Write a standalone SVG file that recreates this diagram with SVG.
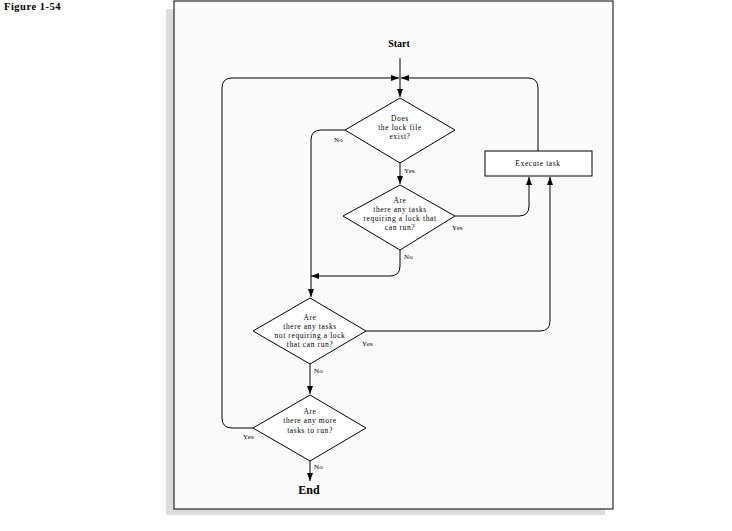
<svg xmlns="http://www.w3.org/2000/svg" width="732" height="531" viewBox="0 0 732 531">
<style>
text{font-family:"Liberation Serif","Times New Roman",serif;fill:#000;text-anchor:middle}
.t{font-size:7.5px;letter-spacing:0.6px}
.l{font-size:7px;letter-spacing:0.3px;text-anchor:start}
.b{font-weight:bold}
.shape{fill:#fff;stroke:#000;stroke-width:1}
.c{fill:none;stroke:#000;stroke-width:1;marker-end:url(#ah)}
</style>
<defs>
<marker id="ah" viewBox="0 0 8 6" refX="8" refY="3" markerWidth="8" markerHeight="6" markerUnits="userSpaceOnUse" orient="auto">
<path d="M0,0 L8,3 L0,6 Z" fill="#000"/>
</marker>
</defs>
<rect x="0" y="0" width="732" height="531" fill="#fff"/>
<text x="4" y="10" style="font-size:10.5px;text-anchor:start;letter-spacing:0.5px" class="b">Figure 1-54</text>
<rect x="166" y="9" width="439" height="506" fill="#dcdcdc"/>
<rect x="174" y="1" width="439" height="508" fill="#fafafa" stroke="#000" stroke-width="1"/>

<g id="start"><text x="399" y="47" class="b" style="font-size:10px">Start</text></g>
<g id="end"><text x="309" y="494" style="font-size:12px" class="b">End</text></g>

<g id="d1">
<polygon class="shape" points="400,98 455,130 400,163 345,130"/>
<text class="t" x="400" y="121">Does</text>
<text class="t" x="400" y="130">the lock file</text>
<text class="t" x="400" y="139">exist?</text>
</g>
<g id="d2">
<polygon class="shape" points="400,185 455,216 400,250 343,216"/>
<text class="t" x="400" y="203">Are</text>
<text class="t" x="400" y="212">there any tasks</text>
<text class="t" x="400" y="221">requiring a lock that</text>
<text class="t" x="400" y="230">can run?</text>
</g>
<g id="box">
<rect class="shape" x="485" y="151" width="107" height="25"/>
<text class="t" x="538" y="166">Execute task</text>
</g>
<g id="d3">
<polygon class="shape" points="310,298 366,331 310,364 253,331"/>
<text class="t" x="310" y="320">Are</text>
<text class="t" x="310" y="329">there any tasks</text>
<text class="t" x="310" y="338">not requiring a lock</text>
<text class="t" x="310" y="347">that can run?</text>
</g>
<g id="d4">
<polygon class="shape" points="310,395 366,428 310,461 253,428"/>
<text class="t" x="310" y="414">Are</text>
<text class="t" x="310" y="423">there any more</text>
<text class="t" x="310" y="433">tasks to run?</text>
</g>

<g id="connectors">
<path class="c" d="M400,58 V97"/>
<path class="c" d="M253,428 H232 Q222,428 222,418 V88 Q222,78 232,78 H399"/>
<path class="c" d="M538,151 V88 Q538,78 528,78 H401"/>
<path class="c" d="M345,130 H321 Q311,130 311,140 V297"/>
<path class="c" d="M400,163 V184"/>
<path class="c" d="M455,216 H519 Q529,216 529,206 V177"/>
<path class="c" d="M400,250 V266 Q400,276 390,276 H311"/>
<path class="c" d="M366,331 H540 Q550,331 550,321 V177"/>
<path class="c" d="M310,364 V394"/>
<path class="c" d="M310,461 V481"/>
<text class="l" x="334" y="142">No</text>
<text class="l" x="404" y="173">Yes</text>
<text class="l" x="452" y="230">Yes</text>
<text class="l" x="404" y="259">No</text>
<text class="l" x="362" y="346">Yes</text>
<text class="l" x="314" y="373">No</text>
<text class="l" x="243" y="439">Yes</text>
<text class="l" x="314" y="469">No</text>
</g>
</svg>
